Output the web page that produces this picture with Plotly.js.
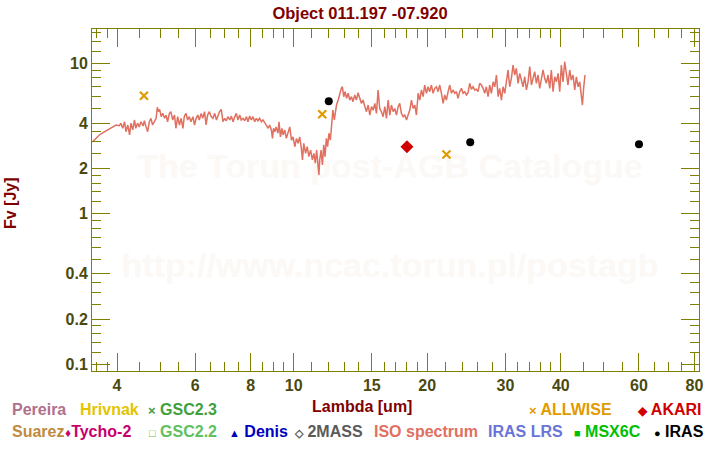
<!DOCTYPE html>
<html>
<head>
<meta charset="utf-8">
<script src="https://cdn.plot.ly/plotly-3.0.1.min.js"></script>
<style>html,body{margin:0;padding:0;background:#fff;}#chart{width:720px;height:450px;}</style>
</head>
<body>
<div id="chart"></div>
<script>
// ISO spectrum (wavelength in um, flux in Jy)
const isoWave = [3.52,3.59,3.65,3.72,3.78,3.85,3.91,3.98,4.05,4.08,4.12,4.16,4.19,4.23,4.27,4.30,4.34,4.38,4.41,4.45,4.49,4.53,4.58,4.61,4.65,4.69,4.73,4.77,4.81,4.86,4.90,4.93,4.96,4.99,5.03,5.07,5.12,5.16,5.20,5.25,5.29,5.34,5.39,5.43,5.48,5.53,5.58,5.63,5.67,5.72,5.77,5.82,5.87,5.93,5.98,6.03,6.08,6.13,6.19,6.24,6.30,6.35,6.40,6.46,6.52,
6.58,6.64,6.70,6.76,6.81,6.87,6.93,6.99,7.05,7.11,7.18,7.24,7.30,7.37,7.43,7.49,7.56,7.62,7.69,7.76,7.83,7.89,7.96,8.03,8.10,8.17,8.24,8.31,8.38,8.46,8.53,8.61,8.68,8.76,8.83,8.91,8.96,9.01,9.07,9.13,9.22,9.27,9.34,9.41,9.47,9.55,9.63,9.71,9.80,9.89,9.97,10.06,10.15,10.23,10.32,10.41,10.47,10.54,10.64,10.73,10.82,10.92,11.02,11.11,11.19,11.27,11.34,11.40,11.45,11.53,11.61,11.69,11.77,11.85,11.93,12.01,12.10,12.18,12.26,12.35,12.49,12.60,12.70,12.81,12.88,
12.97,13.06,13.16,13.27,13.38,13.50,13.61,13.73,13.85,13.97,14.09,14.21,14.33,14.46,14.59,14.72,14.85,14.98,15.11,15.24,15.37,15.50,15.63,15.77,15.91,16.05,16.19,16.33,16.47,16.61,16.76,16.90,17.05,17.20,17.34,17.49,17.65,17.80,17.96,18.11,18.27,18.43,18.59,18.75,18.91,19.08,19.24,19.41,19.58,19.74,19.92,20.09,20.26,20.44,20.62,20.80,20.98,21.16,21.34,21.53,21.72,21.90,22.09,22.29,22.48,22.68,22.87,
23.07,23.27,23.47,23.67,23.88,24.09,24.30,24.51,24.72,24.93,25.15,25.37,25.59,25.81,26.03,26.26,26.49,26.72,26.95,27.18,27.42,27.66,27.90,28.15,28.39,28.64,28.89,29.13,29.39,29.64,29.90,30.16,30.42,30.68,30.95,31.22,31.49,31.76,32.04,32.32,32.60,32.88,33.17,33.46,33.75,34.04,34.34,34.63,34.93,35.24,35.54,35.85,36.16,36.47,36.79,37.11,37.43,37.76,38.08,38.42,38.75,39.09,39.43,39.77,40.11,40.46,40.81,41.17,41.52,41.89,42.25,42.62,42.99,43.36,43.74,44.12,44.51,44.74,45.05,45.35];
const isoFlux = [3.00,3.21,3.34,3.46,3.56,3.66,3.78,3.89,3.85,4.00,3.70,4.09,3.51,3.89,3.34,4.00,3.61,4.20,3.70,4.00,3.78,4.09,3.83,4.15,3.78,3.51,4.09,4.31,3.89,4.09,4.31,5.10,4.77,4.94,4.42,4.65,4.31,4.53,4.09,4.65,4.77,4.20,4.53,3.70,4.42,3.89,4.31,3.70,4.42,4.65,4.20,4.42,4.09,4.42,3.89,4.31,4.53,4.20,4.65,4.31,4.77,3.89,4.53,4.77,4.42,
4.31,4.65,4.20,4.53,4.77,4.94,4.09,4.31,4.15,4.42,4.20,4.46,4.09,4.42,4.65,4.20,4.53,4.20,4.31,4.15,4.42,4.09,4.46,4.20,4.42,4.09,4.31,4.15,4.31,4.09,4.20,4.03,3.89,3.70,3.89,3.61,3.17,3.70,3.51,3.78,3.43,4.09,3.24,3.70,3.34,3.61,3.17,3.51,3.78,3.09,3.24,2.79,3.17,2.94,3.24,2.72,2.28,2.94,2.52,2.79,2.40,2.65,2.28,2.52,2.17,2.65,2.01,1.81,2.28,2.65,2.11,2.87,2.40,3.17,2.79,3.43,3.09,3.78,4.89,4.20,5.28,5.70,6.32,6.82,6.98,
6.00,6.48,5.86,6.32,5.70,6.00,5.56,6.16,5.70,6.38,5.86,5.42,5.70,5.15,4.77,5.28,4.53,5.15,4.89,5.42,4.65,6.65,5.01,4.77,4.42,5.15,4.31,5.70,4.53,5.28,4.77,5.01,4.53,5.15,5.42,4.65,4.42,4.53,4.20,4.53,4.89,5.70,5.01,5.28,4.53,6.32,5.70,6.65,6.00,7.17,6.32,6.98,6.48,7.17,6.32,6.82,6.98,6.48,7.17,6.32,5.42,6.16,5.70,6.48,7.17,6.32,6.65,
6.32,6.48,5.86,6.48,6.82,6.32,6.48,6.16,6.38,7.36,6.72,6.98,6.65,6.72,6.48,7.36,7.17,6.82,6.32,6.98,6.00,7.17,6.32,7.53,6.98,8.36,6.00,6.82,5.70,6.98,6.32,7.36,9.03,6.98,7.95,9.74,8.36,9.26,7.36,8.58,7.74,6.98,8.14,6.65,7.53,9.51,7.17,8.14,8.80,7.36,8.36,6.82,7.74,9.03,7.95,7.36,8.36,6.82,9.03,6.48,8.14,7.53,8.58,6.48,9.74,7.53,10.25,8.58,7.17,9.03,7.74,8.36,6.65,8.14,6.98,7.53,6.32,5.28,6.98,8.36];

// Photometry
const allwiseWave = [4.6, 11.6, 22.1];
const allwiseFlux = [6.09, 4.58, 2.48];
const irasWave = [12, 25, 60];
const irasFlux = [5.59, 2.99, 2.90];
const akariWave = [18.0];
const akariFlux = [2.79];

// Axis ticks
const xTickVals = [4, 6, 8, 10, 15, 20, 30, 40, 60, 80];
const xTickText = ['4', '6', '8', '10', '15', '20', '30', '40', '60', '80'];
const xMinorVals = [3.6, 3.8, 4.5, 5, 5.5, 6.5, 7, 7.5, 8.5, 9, 9.5, 11, 12, 13, 14, 16, 17, 18, 19, 22, 24, 26, 28, 32, 34, 36, 38, 45, 50, 55, 65, 70, 75];
const yTickVals = [0.1, 0.2, 0.4, 1, 2, 4, 10];
const yTickText = ['0.1', '0.2', '0.4', '1', '2', '4', '10'];
const yMinorVals = [0.12, 0.14, 0.16, 0.18, 0.25, 0.3, 0.35, 0.5, 0.6, 0.7, 0.8, 0.9, 1.2, 1.4, 1.6, 1.8, 2.5, 3, 3.5, 5, 6, 7, 8, 9, 12, 14, 16];

// Legend labels
const legendRow1 = [
  {text: 'Pereira', color: '#b0708c', px: 10},
  {text: 'Hrivnak', color: '#e2c400', px: 78},
  {text: '<span style="font-size:13px">×</span> GSC2.3', color: '#40a040', px: 146},
  {text: '<span style="font-size:13px">×</span> ALLWISE', color: '#e09b00', px: 527},
  {text: '<span style="font-size:12px">◆</span> AKARI', color: '#d00000', px: 635}
];
const legendRow2 = [
  {text: 'Suarez', color: '#c08a40', px: 10},
  {text: '<span style="font-size:12px">♦</span>Tycho-2', color: '#c8006e', px: 63},
  {text: '<span style="font-size:11px">□</span> GSC2.2', color: '#60c060', px: 147},
  {text: '<span style="font-size:11px">▲</span> Denis', color: '#0000c0', px: 227},
  {text: '<span style="font-size:11px">◇</span> 2MASS', color: '#5a5a5a', px: 292},
  {text: 'ISO spectrum', color: '#e07060', px: 372},
  {text: 'IRAS LRS', color: '#6a74d6', px: 486},
  {text: '<span style="font-size:11px">■</span> MSX6C', color: '#00c000', px: 572},
  {text: '<span style="font-size:11px">●</span> IRAS', color: '#000000', px: 652}
];

const FONT = 'Liberation Sans, Arial, sans-serif';
const L = 92, R = 21, T = 29, B = 79, W = 720, H = 450;
const PW = W - L - R, PH = H - T - B;
const px2x = p => (p - L) / PW;
const py2y = p => (H - B - p) / PH;

const traces = [
  {x: isoWave, y: isoFlux, type: 'scatter', mode: 'lines', line: {color: '#e07060', width: 1.5}, hoverinfo: 'skip'},
  {x: allwiseWave, y: allwiseFlux, type: 'scatter', mode: 'markers',
   marker: {symbol: 'x-thin-open', size: 8, line: {color: '#e09b00', width: 2.2}, color: '#e09b00'}},
  {x: irasWave, y: irasFlux, type: 'scatter', mode: 'markers',
   marker: {symbol: 'circle', size: 8, color: '#000000'}},
  {x: akariWave, y: akariFlux, type: 'scatter', mode: 'markers',
   marker: {symbol: 'diamond', size: 10, color: '#d00000'}}
];

const annotations = [];
legendRow1.forEach(it => annotations.push({
  text: it.text, xref: 'paper', yref: 'paper', x: px2x(it.px), y: py2y(410),
  xanchor: 'left', yanchor: 'middle', showarrow: false,
  font: {family: FONT, size: 16, color: it.color, weight: 'bold'}
}));
legendRow2.forEach(it => annotations.push({
  text: it.text, xref: 'paper', yref: 'paper', x: px2x(it.px), y: py2y(431),
  xanchor: 'left', yanchor: 'middle', showarrow: false,
  font: {family: FONT, size: 16, color: it.color, weight: 'bold'}
}));
annotations.push({
  text: 'Lambda [um]', xref: 'paper', yref: 'paper', x: px2x(362), y: py2y(407),
  xanchor: 'center', yanchor: 'middle', showarrow: false,
  font: {family: FONT, size: 16, color: '#800000', weight: 'bold'}
});
annotations.push({
  text: 'Fv [Jy]', xref: 'paper', yref: 'paper', x: px2x(10), y: py2y(203),
  xanchor: 'center', yanchor: 'middle', showarrow: false, textangle: -90,
  font: {family: FONT, size: 16, color: '#800000', weight: 'bold'}
});

const wmFont = {family: FONT, size: 34, color: '#fbf8f5', weight: 'bold'};
const shapes = [
  {type: 'rect', xref: 'paper', yref: 'paper', x0: px2x(100), x1: px2x(680), y0: py2y(183), y1: py2y(143),
   line: {width: 0}, fillcolor: 'rgba(0,0,0,0)', layer: 'below',
   label: {text: 'The Torun post-AGB Catalogue', font: wmFont, textposition: 'middle center'}},
  {type: 'rect', xref: 'paper', yref: 'paper', x0: px2x(100), x1: px2x(680), y0: py2y(282), y1: py2y(242),
   line: {width: 0}, fillcolor: 'rgba(0,0,0,0)', layer: 'below',
   label: {text: 'http://www.ncac.torun.pl/postagb', font: wmFont, textposition: 'middle center'}}
];

const axisCommon = {
  type: 'log', tickmode: 'array', ticks: 'inside', ticklen: 18, tickwidth: 1, tickcolor: '#808000',
  showline: true, linecolor: '#808000', linewidth: 1, mirror: 'allticks',
  showgrid: false, zeroline: false,
  tickfont: {family: FONT, size: 16, color: '#4a4a10', weight: 'bold'}
};

const layout = {
  width: W, height: H,
  margin: {l: L, r: R, t: T, b: B, pad: 0},
  paper_bgcolor: '#ffffff', plot_bgcolor: '#ffffff',
  showlegend: false,
  title: {text: 'Object 011.197 -07.920', x: 0.5, xref: 'container', xanchor: 'center',
          y: 1 - 13 / H, yref: 'container', yanchor: 'middle',
          font: {family: FONT, size: 16.5, color: '#800000', weight: 'bold'}},
  xaxis: Object.assign({}, axisCommon, {
    range: [0.5457, 1.9134], tickvals: xTickVals, ticktext: xTickText,
    minor: {tickmode: 'array', tickvals: xMinorVals, ticks: 'inside', ticklen: 9, tickwidth: 1, tickcolor: '#808000', showgrid: false}
  }),
  yaxis: Object.assign({}, axisCommon, {
    range: [-1.0445, 1.2279], tickvals: yTickVals, ticktext: yTickText,
    minor: {tickmode: 'array', tickvals: yMinorVals, ticks: 'inside', ticklen: 9, tickwidth: 1, tickcolor: '#808000', showgrid: false}
  }),
  annotations: annotations,
  shapes: shapes
};

Plotly.newPlot('chart', traces, layout, {staticPlot: true, displayModeBar: false});
</script>
</body>
</html>
